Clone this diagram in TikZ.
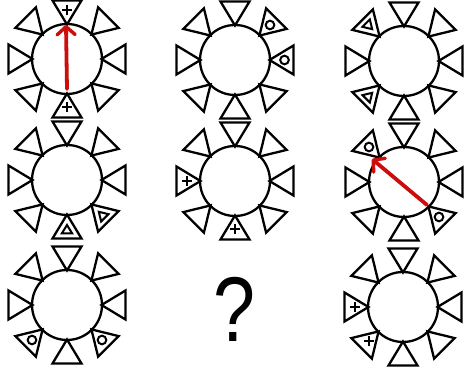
\documentclass[tikz,border=0pt]{standalone}
\usepackage{fontspec}
\setmainfont{Liberation Sans}
\usetikzlibrary{arrows.meta,calc}
\definecolor{arrowred}{RGB}{205,12,12}
\tikzset{
  figline/.style={line width=2.3pt, draw=black, line join=miter},
  symline/.style={line width=2pt, draw=black},
  redarrow/.style={draw=arrowred, line width=3.8pt, line cap=round,
    -{Straight Barb[length=8pt,width=18pt,line width=3.4pt,round]}},
}
% sun figure: centre x, centre y
\newcommand\sunfig[2]{%
  \foreach \a in {0,45,...,315}{%
    \begin{scope}[shift={(#1,#2)}, rotate=\a]
      \draw[figline] (34.5,0) -- (58.5,14.5) -- (58.5,-14.5) -- cycle;
    \end{scope}}%
  \draw[figline] (#1,#2) circle (35);}
% symbols: centre x, centre y, angle
\newcommand\symplus[3]{%
  \draw[symline] ($(#1,#2)+(#3:48.5)+(-5,0)$) -- ++(10,0);
  \draw[symline] ($(#1,#2)+(#3:48.5)+(0,-5)$) -- ++(0,10);}
\newcommand\symcirc[3]{%
  \draw[symline] ($(#1,#2)+(#3:49.5)$) circle (4.3);}
\newcommand\symtri[3]{%
  \begin{scope}[shift={(#1,#2)}, rotate=#3]
    \draw[symline] (45,0) -- (53.5,5.2) -- (53.5,-5.2) -- cycle;
  \end{scope}}
\begin{document}
\begin{tikzpicture}[x=1pt,y=1pt]
\useasboundingbox (0,0) rectangle (467,372);
\fill[white] (0,0) rectangle (467,372);
% row 1
\sunfig{67}{313}
\symplus{67}{313}{90}\symplus{67}{313}{270}
\sunfig{235}{312}
\symcirc{235}{312}{45}\symcirc{235}{312}{0}
\sunfig{404}{311}
\symtri{404}{311}{135}\symtri{404}{311}{225}
% row 2
\sunfig{67}{192}
\symtri{67}{192}{270}\symtri{67}{192}{315}
\sunfig{235}{191}
\symplus{235}{191}{180}\symplus{235}{191}{270}
\sunfig{404}{190}
\symcirc{404}{190}{135}\symcirc{404}{190}{315}
% row 3
\sunfig{67}{67}
\symcirc{67}{67}{225}\symcirc{67}{67}{315}
\sunfig{403}{65}
\symplus{403}{65}{180}\symplus{403}{65}{225}
% question mark
\node[anchor=base, inner sep=0pt, xscale=0.82] (q) at (234,30)
  {\fontsize{92}{92}\selectfont ?};
% red arrows
\coordinate (a1s) at (67,283);
\coordinate (a1e) at (66,347);
\coordinate (a2s) at (427,167);
\coordinate (a2e) at (372,213);
\draw[redarrow] (a1s) -- (a1e);
\draw[redarrow] (a2s) -- (a2e);
\end{tikzpicture}
\end{document}
